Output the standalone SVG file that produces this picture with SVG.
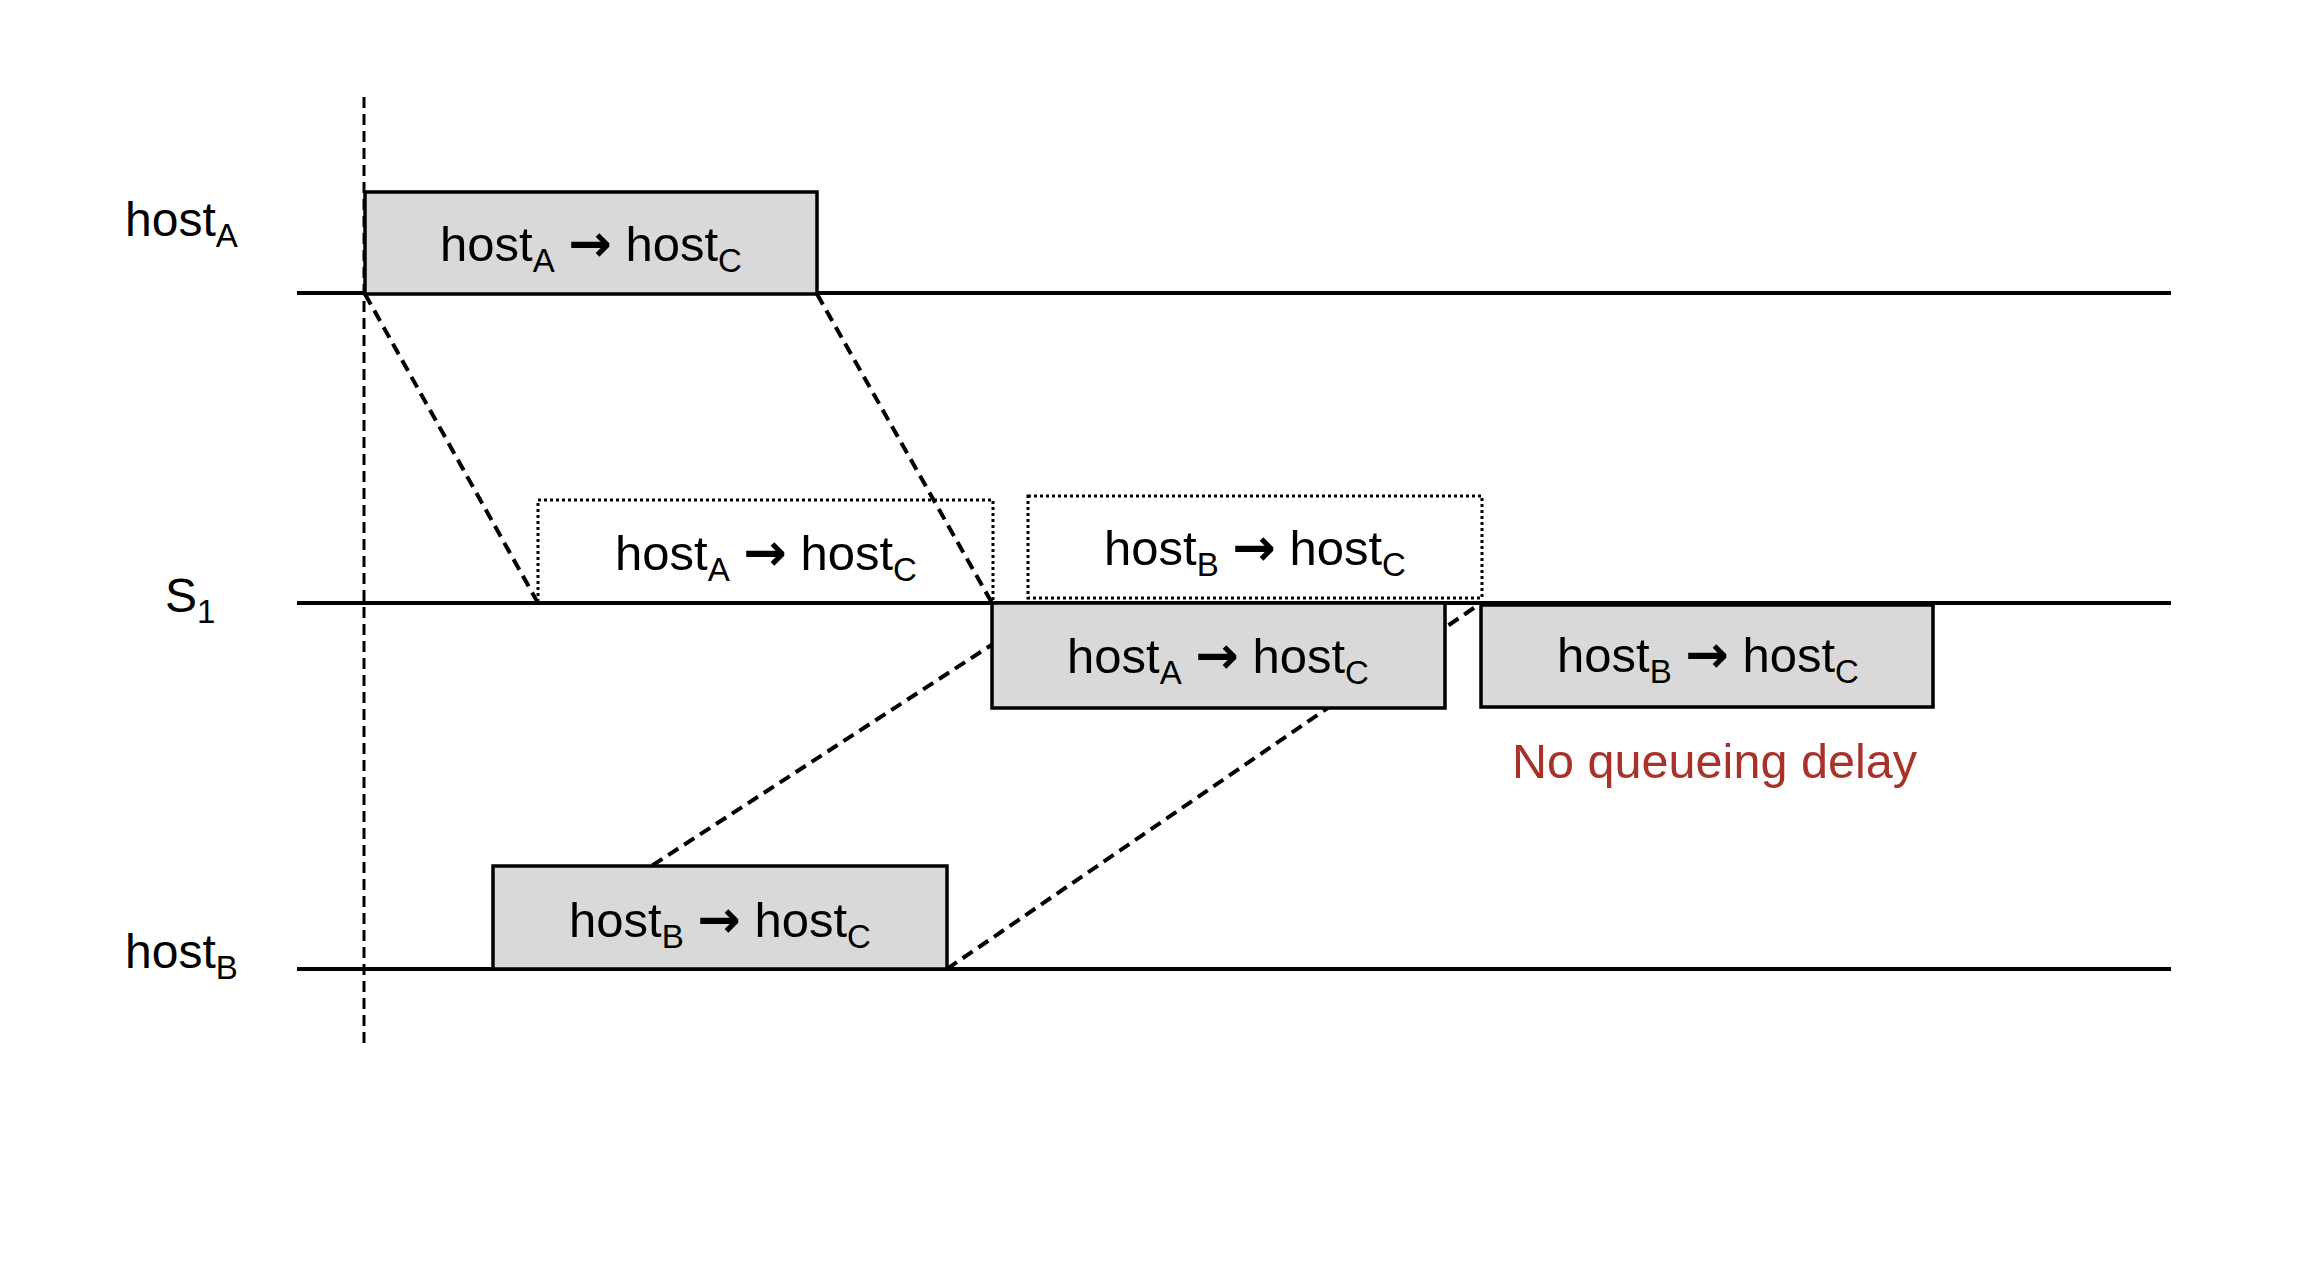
<svg xmlns="http://www.w3.org/2000/svg" width="2302" height="1284" viewBox="0 0 2302 1284">
<style>
  text { font-family: "Liberation Sans", Arial, sans-serif; fill: #000; }
  .lbl { font-size: 49px; text-anchor: middle; }
  .side { font-size: 48px; }
  .sub { font-size: 33px; }
  .arr { font-family: "DejaVu Sans", sans-serif; font-weight: bold; font-size: 52px; }
  .axis { stroke: #000; stroke-width: 4; fill: none; }
  .vdash { stroke: #000; stroke-width: 3; stroke-dasharray: 11 6; fill: none; }
  .conn { stroke: #000; stroke-width: 4; stroke-dasharray: 12 7; fill: none; }
  .pkt { fill: #D9D9D9; stroke: #000; stroke-width: 3.5; }
  .ghost { fill: none; stroke: #000; stroke-width: 3; stroke-dasharray: 3 3; }
  .note { font-size: 48px; fill: #A8322A; }
</style>
<rect x="0" y="0" width="2302" height="1284" fill="#FFFFFF"/>

<g id="timelines">
  <line class="axis" x1="297" y1="293" x2="2171" y2="293"/>
  <line class="axis" x1="297" y1="603" x2="2171" y2="603"/>
  <line class="axis" x1="297" y1="969" x2="2171" y2="969"/>
  <line class="vdash" x1="364" y1="97" x2="364" y2="1049"/>
</g>

<g id="label-hostA"><text class="side" x="125" y="236">host<tspan class="sub" dy="11">A</tspan></text></g>
<g id="label-S1"><text class="side" x="165" y="612">S<tspan class="sub" dy="11">1</tspan></text></g>
<g id="label-hostB"><text class="side" x="125" y="968">host<tspan class="sub" dy="11">B</tspan></text></g>

<g id="connectors">
  <line class="conn" x1="365" y1="294" x2="538" y2="603"/>
  <line class="conn" x1="817" y1="294" x2="992" y2="603"/>
  <line class="conn" x1="493" y1="969" x2="1056" y2="603"/>
  <line class="conn" x1="947" y1="969" x2="1481" y2="603"/>
</g>

<g id="queued-A">
  <rect class="ghost" x="538" y="500" width="455" height="103"/>
  <text class="lbl" x="766" y="570">host<tspan class="sub" dy="11">A</tspan><tspan dy="-11"> </tspan><tspan class="arr">→</tspan> host<tspan class="sub" dy="11">C</tspan></text>
</g>
<g id="queued-B">
  <rect class="ghost" x="1028" y="496" width="454" height="102"/>
  <text class="lbl" x="1255" y="565">host<tspan class="sub" dy="11">B</tspan><tspan dy="-11"> </tspan><tspan class="arr">→</tspan> host<tspan class="sub" dy="11">C</tspan></text>
</g>

<g id="packet-hostA">
  <rect class="pkt" x="365" y="192" width="452" height="102"/>
  <text class="lbl" x="591" y="261">host<tspan class="sub" dy="11">A</tspan><tspan dy="-11"> </tspan><tspan class="arr">→</tspan> host<tspan class="sub" dy="11">C</tspan></text>
</g>
<g id="packet-S1-A">
  <rect class="pkt" x="992" y="603" width="453" height="105"/>
  <text class="lbl" x="1218" y="673">host<tspan class="sub" dy="11">A</tspan><tspan dy="-11"> </tspan><tspan class="arr">→</tspan> host<tspan class="sub" dy="11">C</tspan></text>
</g>
<g id="packet-S1-B">
  <rect class="pkt" x="1481" y="605" width="452" height="102"/>
  <text class="lbl" x="1708" y="672">host<tspan class="sub" dy="11">B</tspan><tspan dy="-11"> </tspan><tspan class="arr">→</tspan> host<tspan class="sub" dy="11">C</tspan></text>
</g>
<g id="packet-hostB">
  <rect class="pkt" x="493" y="866" width="454" height="103"/>
  <text class="lbl" x="720" y="937">host<tspan class="sub" dy="11">B</tspan><tspan dy="-11"> </tspan><tspan class="arr">→</tspan> host<tspan class="sub" dy="11">C</tspan></text>
</g>

<g id="note">
  <text class="note" x="1512" y="778" textLength="405" lengthAdjust="spacingAndGlyphs">No queueing delay</text>
</g>
</svg>
